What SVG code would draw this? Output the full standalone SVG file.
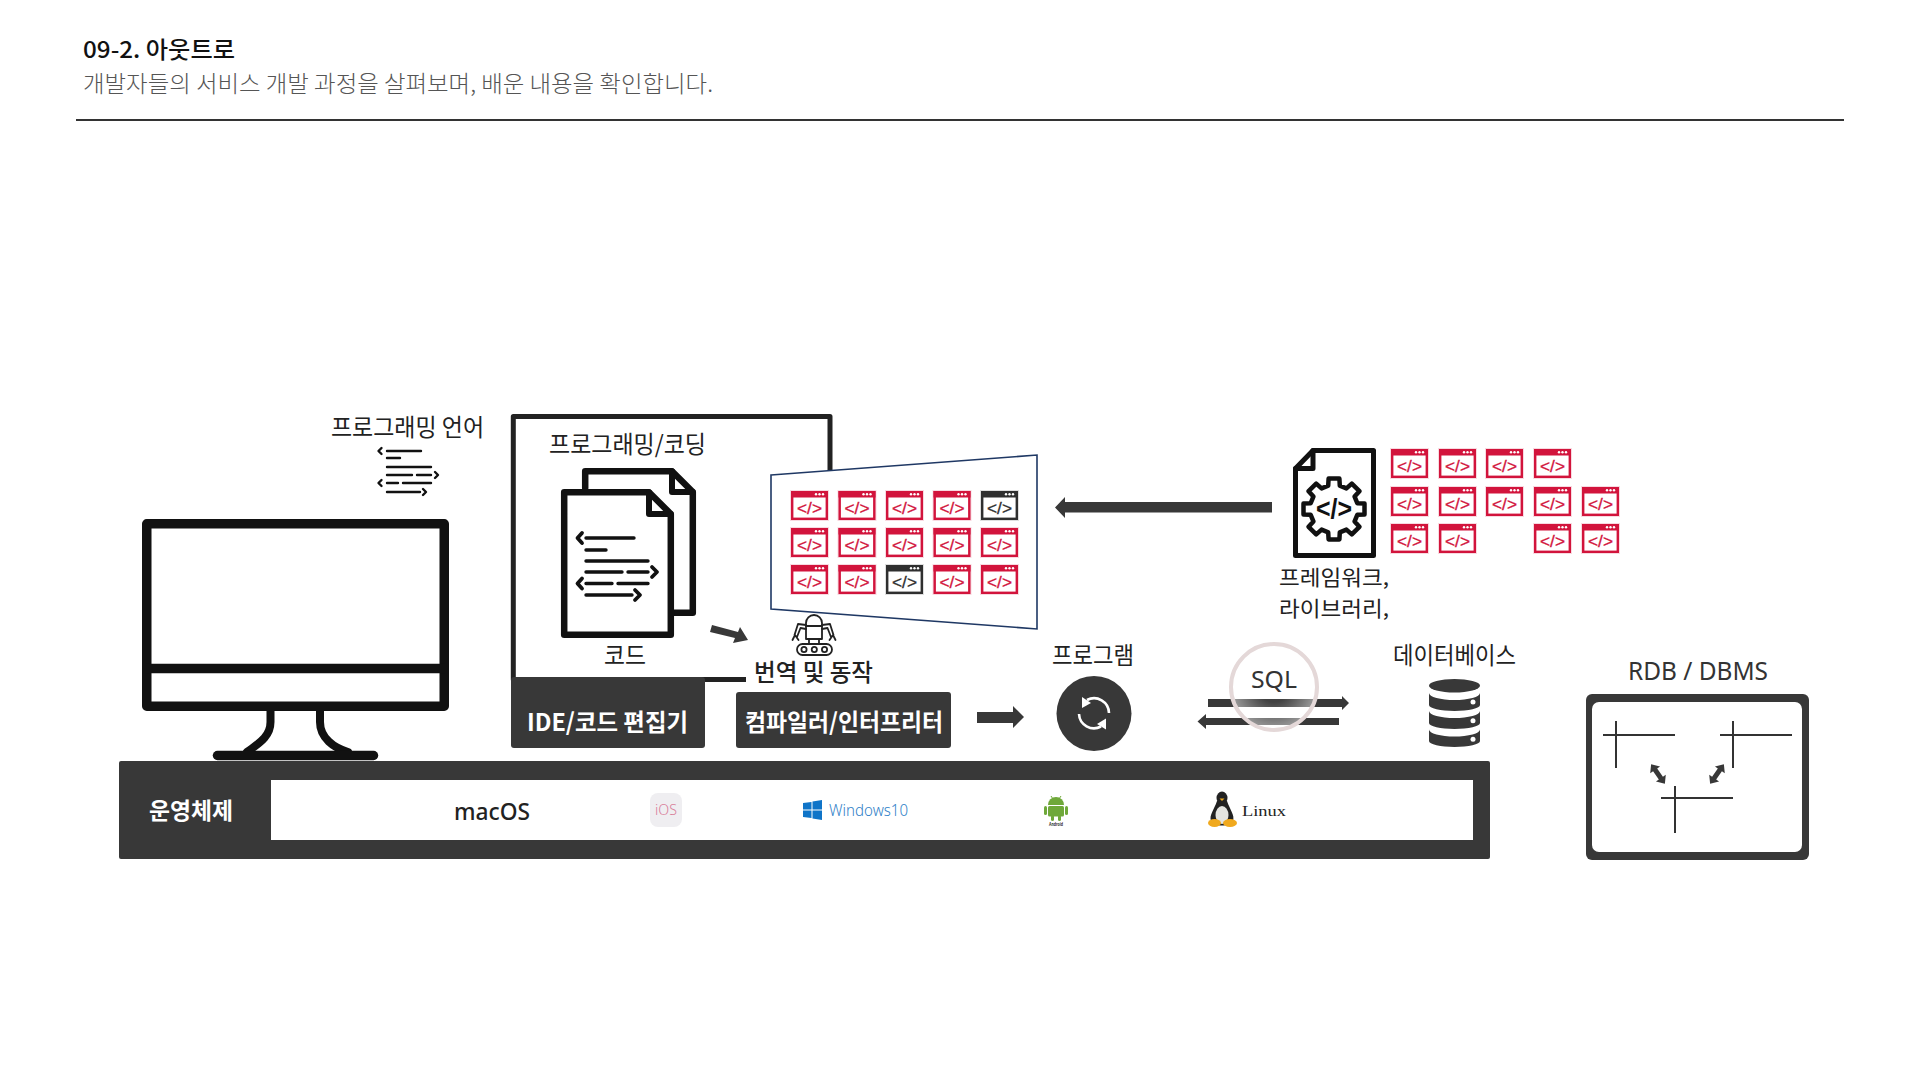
<svg xmlns="http://www.w3.org/2000/svg" width="1920" height="1080" viewBox="0 0 1920 1080">
<style>
text{font-family:"Noto Sans CJK KR","Noto Sans",sans-serif;fill:#222}
.w{fill:#fff;font-weight:700}
.d{fill:#383838}
.ln{fill:none;stroke:#111;stroke-linecap:round;stroke-linejoin:round}
.r{color:#d2143c}
.k{color:#2f2f2f}
.thin{stroke:#333;stroke-width:2;fill:none}
</style>
<defs>
<g id="card">
<rect x="-1" y="-1" width="39" height="31" fill="currentColor" opacity="0.16"/>
<rect x="1.200" y="1.200" width="34.600" height="26.600" fill="#fff" stroke="currentColor" stroke-width="2.400"/>
<rect width="37" height="6.500" fill="currentColor"/>
<circle cx="25" cy="3.300" r="1.200" fill="#fff"/><circle cx="28.500" cy="3.300" r="1.200" fill="#fff"/><circle cx="32" cy="3.300" r="1.200" fill="#fff"/>
<text x="6" y="22.500" font-size="17" textLength="25" lengthAdjust="spacingAndGlyphs" stroke="currentColor" stroke-width="0.300" style="font-family:'Liberation Sans',sans-serif;fill:currentColor">&lt;/&gt;</text>
</g>
<radialGradient id="sqlGlow"><stop offset="0.35" stop-color="#fff" stop-opacity="0.05"/><stop offset="1" stop-color="#fff" stop-opacity="0.5"/></radialGradient>
<polygon id="dbl" class="d" points="-12,0 -5,-6 -5,-2.500 5,-2.500 5,-6 12,0 5,6 5,2.500 -5,2.500 -5,6"/>
</defs>
<rect width="1920" height="1080" fill="#fff"/>

<g id="header">
<text x="83" y="58" font-size="23" font-weight="500" textLength="152" lengthAdjust="spacingAndGlyphs" style="fill:#111">09-2. 아웃트로</text>
<text x="83" y="92" font-size="23" font-weight="300" style="fill:#555" textLength="630" lengthAdjust="spacingAndGlyphs">개발자들의 서비스 개발 과정을 살펴보며, 배운 내용을 확인합니다.</text>
<line x1="76" y1="120" x2="1844" y2="120" stroke="#333" stroke-width="2"/>
</g>

<g id="monitor">
<path class="ln" stroke-width="8" d="M270.500,711V722C270.500,738 256,745 247,752M320,711V722C320,738 334,748 348,752"/>
<rect x="146.750" y="523.750" width="297.500" height="182.500" fill="#fff" stroke="#111" stroke-width="9.500" stroke-linejoin="round"/>
<line x1="146" y1="668.500" x2="445" y2="668.500" stroke="#111" stroke-width="9.500"/>
<line x1="217.500" y1="755.500" x2="373.500" y2="755.500" stroke="#111" stroke-width="9.500" stroke-linecap="round"/>
</g>

<g id="programming-language">
<text x="331" y="436" font-size="24" textLength="153" lengthAdjust="spacingAndGlyphs">프로그래밍 언어</text>
<g class="ln" stroke-width="2.400">
<path d="M387,451H421M387,458H400M387,467H431M387,475H412M417,475H431M387,483H398M403,483H431M387,492H420"/>
<path d="M381.500,448L378.500,451L381.500,454M435,472L438,475L435,478M381.500,480L378.500,483L381.500,486M423,489L426,492L423,495"/>
</g>
</g>

<g id="ide-panel">
<path d="M746,679.500H513.300V416.500H830V480" fill="none" stroke="#222" stroke-width="5" stroke-linejoin="round"/>
<rect class="d" x="511" y="677" width="194" height="71" rx="3"/>
<text class="w" x="527" y="731" font-size="24" textLength="161" lengthAdjust="spacingAndGlyphs">IDE/코드 편집기</text>
<text x="549" y="453" font-size="24" textLength="157" lengthAdjust="spacingAndGlyphs">프로그래밍/코딩</text>
</g>

<g id="code-docs">
<path class="ln" stroke-width="6.500" d="M585.200,488V471.200H672L692.800,492V612.800H674"/>
<path class="ln" stroke-width="6" d="M672,471.200V492H692.800"/>
<path class="ln" stroke-width="6.500" style="fill:#fff" d="M564.200,492.200H649L670.800,514V634.800H564.200Z"/>
<path class="ln" stroke-width="6" d="M649,492.200V514H670.800"/>
<g class="ln" stroke-width="3.400">
<path d="M586,538H634M586,550H606M586,561H648M586,572H622M628,572H648M586,583.500H612M618,583.500H648M586,595H632"/>
<path stroke-width="3.800" d="M582,533L577.500,538L582,543M652,567L657,572L652,577M582,578.500L577.500,583.500L582,588.500M635,590L640,595L635,600"/>
</g>
<text x="604" y="664" font-size="24" textLength="42" lengthAdjust="spacingAndGlyphs">코드</text>
</g>

<g id="source-sheet">
<polygon points="771,475 1037,455 1037,629 771,609" fill="#fff" stroke="#1f3864" stroke-width="1.600"/>
<g class="r">
<use href="#card" x="791" y="491"/><use href="#card" x="838.500" y="491"/><use href="#card" x="886" y="491"/><use href="#card" x="933.500" y="491"/>
<use href="#card" x="791" y="528"/><use href="#card" x="838.500" y="528"/><use href="#card" x="886" y="528"/><use href="#card" x="933.500" y="528"/><use href="#card" x="981" y="528"/>
<use href="#card" x="791" y="565"/><use href="#card" x="838.500" y="565"/><use href="#card" x="933.500" y="565"/><use href="#card" x="981" y="565"/>
</g>
<g class="k"><use href="#card" x="981" y="491"/><use href="#card" x="886" y="565"/></g>
</g>

<g id="translator">
<g fill="none" stroke="#222" stroke-width="1.800" stroke-linejoin="round" stroke-linecap="round">
<path d="M806,623A8,8 0 0 1 822,623V639H806Z"/>
<path d="M806,626H822M809,639V644M819,639V644"/>
<path d="M806,625L798,624L794.500,635M806,629L800.500,628L797,637M792.500,640L795,635L798.500,640M822,625L830,624L833.500,635M822,629L827.500,628L831,637M835.500,640L833,635L829.500,640"/>
<rect x="797" y="644" width="35" height="11" rx="5.500"/>
<circle cx="804" cy="649.500" r="2.600"/><circle cx="814.300" cy="649.500" r="2.600"/><circle cx="824.500" cy="649.500" r="2.600"/>
</g>
<text x="754" y="681" font-size="24" font-weight="500" textLength="119" lengthAdjust="spacingAndGlyphs">번역 및 동작</text>
</g>

<g id="compiler">
<rect class="d" x="736" y="692" width="215" height="56" rx="3"/>
<text class="w" x="745" y="731" font-size="24" textLength="198" lengthAdjust="spacingAndGlyphs">컴파일러/인터프리터</text>
</g>

<g id="program">
<text x="1052" y="664" font-size="24" textLength="82" lengthAdjust="spacingAndGlyphs">프로그램</text>
<circle class="d" cx="1094" cy="713.500" r="37.500"/>
<g fill="none" stroke="#fff" stroke-width="2.600"><path d="M1109,713A15,15 0 0 0 1087,700"/><path d="M1079,714A15,15 0 0 0 1101,726.500"/></g>
<polygon points="1082,697 1091,703 1082,708" fill="#fff"/><polygon points="1106,729.500 1097,724 1106,718.500" fill="#fff"/>
</g>

<g id="framework">
<path class="ln" stroke-width="5" style="fill:#fff" d="M1313,450.500H1373.500V555.500H1295.500V468.500Z"/>
<path class="ln" stroke-width="5" d="M1313,450.500V468.500H1295.500"/>
<polygon transform="translate(1334,509)" fill="#fff" stroke="#111" stroke-width="4.500" stroke-linejoin="round" points="23.300,-5.800 30.500,-5.400 30.500,5.400 23.300,5.800 20.600,12.400 25.400,17.800 17.800,25.400 12.400,20.600 5.800,23.300 5.400,30.500 -5.400,30.500 -5.800,23.300 -12.400,20.600 -17.800,25.400 -25.400,17.800 -20.600,12.400 -23.300,5.800 -30.500,5.400 -30.500,-5.400 -23.300,-5.800 -20.600,-12.400 -25.400,-17.800 -17.800,-25.400 -12.400,-20.600 -5.800,-23.300 -5.400,-30.500 5.400,-30.500 5.800,-23.300 12.400,-20.600 17.800,-25.400 25.400,-17.800 20.600,-12.400"/>
<text x="1316" y="518" font-size="28" font-weight="700" textLength="36" lengthAdjust="spacingAndGlyphs" style="font-family:'Liberation Sans',sans-serif;fill:#111">&lt;/&gt;</text>
<text x="1279" y="585" font-size="21" textLength="110" lengthAdjust="spacingAndGlyphs">프레임워크,</text>
<text x="1279" y="616" font-size="21" textLength="110" lengthAdjust="spacingAndGlyphs">라이브러리,</text>
</g>

<g id="library-grid" class="r">
<use href="#card" x="1391" y="449"/><use href="#card" x="1439" y="449"/><use href="#card" x="1486" y="449"/><use href="#card" x="1534" y="449"/>
<use href="#card" x="1391" y="487"/><use href="#card" x="1439" y="487"/><use href="#card" x="1486" y="487"/><use href="#card" x="1534" y="487"/><use href="#card" x="1582" y="487"/>
<use href="#card" x="1391" y="524"/><use href="#card" x="1439" y="524"/><use href="#card" x="1534" y="524"/><use href="#card" x="1582" y="524"/>
</g>

<g id="connectors">
<polygon class="d" points="1272,502 1065,502 1065,497 1055,507.500 1065,518 1065,512.500 1272,512.500"/>
<polygon class="d" points="712,625 738,632 740,627 748,640 733,643 735,638 710,632"/>
<polygon class="d" points="977,712 1013,712 1013,706 1024,717 1013,728 1013,723 977,723"/>
<polygon class="d" points="1208,699 1342,699 1342,696 1349,703 1342,710 1342,707 1208,707"/>
<polygon class="d" points="1339,718 1206,718 1206,714 1197.500,721.500 1206,729 1206,725 1339,725"/>
</g>

<g id="sql">
<circle cx="1274" cy="687" r="43" fill="url(#sqlGlow)" stroke="#e4d8d8" stroke-width="4"/>
<text x="1251" y="688" font-size="24" textLength="46" lengthAdjust="spacingAndGlyphs" style="font-family:'Noto Sans',sans-serif;fill:#333">SQL</text>
</g>

<g id="database">
<text x="1393" y="664" font-size="24" textLength="123" lengthAdjust="spacingAndGlyphs">데이터베이스</text>
<ellipse class="d" cx="1454.500" cy="685.700" rx="25.500" ry="6.800"/>
<path class="d" d="M1429,693A25.500,7 0 0 0 1480,693V705A25.500,6 0 0 1 1429,705Z"/>
<path class="d" d="M1429,711A25.500,7 0 0 0 1480,711V723A25.500,6 0 0 1 1429,723Z"/>
<path class="d" d="M1429,729.500A25.500,7 0 0 0 1480,729.500V741A25.500,6 0 0 1 1429,741Z"/>
<circle cx="1473" cy="702" r="2.500" fill="#fff"/><circle cx="1473" cy="720.700" r="2.500" fill="#fff"/><circle cx="1473" cy="739.300" r="2.500" fill="#fff"/>
</g>

<g id="rdb">
<text x="1628" y="680" font-size="25" textLength="140" lengthAdjust="spacingAndGlyphs" style="font-family:'Noto Sans',sans-serif;fill:#333">RDB / DBMS</text>
<rect class="d" x="1586" y="694" width="223" height="166" rx="6"/>
<rect x="1592" y="702" width="210" height="150" rx="7" fill="#fff"/>
<path class="thin" d="M1603,735H1675M1616,721V768M1720,735H1792M1733,721V768M1661,798H1733M1675,786V833"/>
<use href="#dbl" transform="translate(1658,774) rotate(55)"/>
<use href="#dbl" transform="translate(1717,774) rotate(125)"/>
</g>

<g id="os-bar">
<rect class="d" x="119" y="761" width="1371" height="98" rx="2"/>
<rect x="271" y="780" width="1202" height="60" fill="#fff"/>
<text class="w" x="149" y="819" font-size="23" textLength="84" lengthAdjust="spacingAndGlyphs">운영체제</text>
<text x="454" y="820" font-size="24" font-weight="500" textLength="76" lengthAdjust="spacingAndGlyphs" style="font-family:'Noto Sans',sans-serif;fill:#222">macOS</text>
</g>

<g id="os-ios">
<rect x="650" y="793" width="32" height="34" rx="8" fill="#efeef1"/>
<text x="655" y="815" font-size="15" textLength="22" lengthAdjust="spacingAndGlyphs" style="font-family:'Noto Sans',sans-serif;fill:#d9809a;font-weight:300">iOS</text>
</g>

<g id="os-windows">
<polygon points="803,803 811.500,802 811.500,809.500 803,809.500" fill="#0f74c8"/><polygon points="812.500,801.500 822,800 822,809.500 812.500,809.500" fill="#0f74c8"/>
<polygon points="803,810.500 811.500,810.500 811.500,818 803,817" fill="#0f74c8"/><polygon points="812.500,810.500 822,810.500 822,820 812.500,818.500" fill="#0f74c8"/>
<text x="829" y="816" font-size="17" textLength="79" lengthAdjust="spacingAndGlyphs" style="font-family:'Noto Sans',sans-serif;fill:#2f81c8;font-weight:300">Windows10</text>
</g>

<g id="os-android" fill="#6fa83a">
<path d="M1048,805A8,8 0 0 1 1064,805Z"/>
<rect x="1048" y="806" width="16" height="10.500" rx="1.500"/>
<rect x="1044" y="806" width="3" height="9" rx="1.500"/><rect x="1065" y="806" width="3" height="9" rx="1.500"/>
<rect x="1051" y="815" width="3" height="6" rx="1.500"/><rect x="1058" y="815" width="3" height="6" rx="1.500"/>
<line x1="1051" y1="796" x2="1053" y2="799" stroke="#6fa83a"/><line x1="1061" y1="796" x2="1059" y2="799" stroke="#6fa83a"/>
<text x="1049" y="826" font-size="4.500" font-weight="700" textLength="14" lengthAdjust="spacingAndGlyphs" style="font-family:'Noto Sans',sans-serif;fill:#333">Android</text>
</g>

<g id="os-linux">
<ellipse cx="1222" cy="798" rx="5.500" ry="6.500" fill="#222"/>
<path d="M1217,801C1214,810 1209,815 1211,821C1215,827 1229,827 1233,821C1235,815 1230,810 1227,801Z" fill="#222"/>
<ellipse cx="1222" cy="815" rx="6.500" ry="9" fill="#e4e4e0"/>
<polygon points="1219.500,798.500 1224.500,798.500 1222,801" fill="#f0a91e"/>
<ellipse cx="1214.500" cy="823" rx="6.500" ry="4" fill="#f0a91e"/><ellipse cx="1230" cy="823" rx="7" ry="4" fill="#f0a91e"/>
<text x="1242" y="816" font-size="15" textLength="44" lengthAdjust="spacingAndGlyphs" style="font-family:'Liberation Serif',serif;fill:#222">Linux</text>
</g>
</svg>
